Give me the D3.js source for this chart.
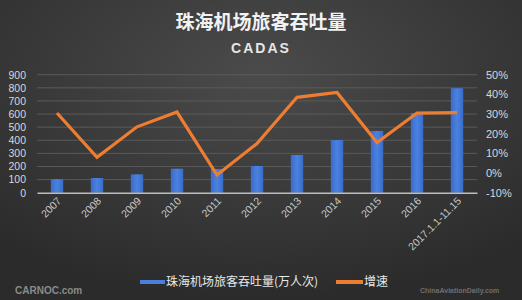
<!DOCTYPE html>
<html>
<head>
<meta charset="utf-8">
<script src="https://cdn.jsdelivr.net/npm/d3@7"></script>
<style>
  body { margin: 0; background: #333; }
  svg { display: block; }
</style>
</head>
<body>
<div id="chart"></div>
<script>
const years = ['2007', '2008', '2009', '2010', '2011', '2012', '2013', '2014', '2015', '2016', '2017.1.1-11.15'];
const passengers = [103, 112, 140, 183, 181, 204, 288, 402, 471, 608, 797];
const growth = [30.5, 8, 23.5, 31, -1, 15, 38.5, 41, 15.5, 30.5, 30.7];
const left_ticks = [0, 100, 200, 300, 400, 500, 600, 700, 800, 900];
const right_ticks = [-10, 0, 10, 20, 30, 40, 50];

const chart_width = 522;
const chart_height = 300;
const font = "'Noto Sans CJK SC', 'Liberation Sans', sans-serif";
const num_font = "'Liberation Sans', Arial, sans-serif";

const svg = d3.select('#chart')
    .append('svg')
    .attr('width', chart_width)
    .attr('height', chart_height);

// Background
const defs = svg.append('defs');
const bg = defs.append('radialGradient')
    .attr('id', 'bg')
    .attr('cx', '50%').attr('cy', '25%').attr('r', '75%');
bg.append('stop').attr('offset', '0%').attr('stop-color', '#4b4b4b');
bg.append('stop').attr('offset', '100%').attr('stop-color', '#2b2b2b');

const bar_grad = defs.append('linearGradient')
    .attr('id', 'bar')
    .attr('x1', 0).attr('x2', 1).attr('y1', 0).attr('y2', 0);
bar_grad.append('stop').attr('offset', '0%').attr('stop-color', '#3a6bc9');
bar_grad.append('stop').attr('offset', '50%').attr('stop-color', '#4a82e0');
bar_grad.append('stop').attr('offset', '100%').attr('stop-color', '#3a6bc9');

svg.append('rect')
    .attr('width', chart_width)
    .attr('height', chart_height)
    .attr('fill', 'url(#bg)');

// Scales
const x_scale = d3.scaleBand()
    .domain(years)
    .range([37, 477])
    .paddingInner(0.69)
    .paddingOuter(0.345);

const y_left = d3.scaleLinear()
    .domain([0, 900])
    .range([192.7, 74.7]);

const y_right = d3.scaleLinear()
    .domain([-10, 50])
    .range([192.7, 74.7]);

// Gridlines
svg.append('g')
    .selectAll('line')
    .data(left_ticks.slice(1))
    .enter()
    .append('line')
    .attr('x1', 37)
    .attr('x2', 477)
    .attr('y1', d => y_left(d))
    .attr('y2', d => y_left(d))
    .attr('stroke', '#5a5a5a')
    .attr('stroke-width', 1);

// Left axis
const y_axis_left = d3.axisLeft(y_left).tickValues(left_ticks).tickSize(0).tickPadding(0);
const gl = svg.append('g')
    .attr('transform', 'translate(26, 0)')
    .call(y_axis_left);
gl.select('.domain').remove();
gl.selectAll('text')
    .attr('fill', '#d8d8d8')
    .style('font-family', num_font)
    .style('font-size', '10.5px');

// Right axis
const y_axis_right = d3.axisRight(y_right).tickValues(right_ticks).tickSize(0).tickPadding(0)
    .tickFormat(d => d + '%');
const gr = svg.append('g')
    .attr('transform', 'translate(486, 0)')
    .call(y_axis_right);
gr.select('.domain').remove();
gr.selectAll('text')
    .attr('fill', '#d8d8d8')
    .style('font-family', num_font)
    .style('font-size', '11px');

// Bars
svg.append('g')
    .selectAll('rect')
    .data(passengers)
    .enter()
    .append('rect')
    .attr('x', (d, i) => x_scale(years[i]))
    .attr('y', d => y_left(d))
    .attr('width', x_scale.bandwidth())
    .attr('height', d => y_left(0) - y_left(d))
    .attr('fill', 'url(#bar)');

// X axis
const x_axis = d3.axisBottom(x_scale).tickSize(0).tickPadding(0);
const gx = svg.append('g')
    .attr('transform', `translate(0, ${y_left(0)})`)
    .call(x_axis);
gx.select('.domain')
    .attr('stroke', '#bdbdbd')
    .attr('stroke-width', 1.5);
gx.selectAll('text')
    .attr('fill', '#c8c8c8')
    .style('font-family', num_font)
    .style('font-size', '10.5px')
    .attr('text-anchor', 'end')
    .attr('dy', null)
    .attr('transform', 'translate(5, 9) rotate(-45)');

// Growth line
const line = d3.line()
    .x((d, i) => x_scale(years[i]) + x_scale.bandwidth() / 2)
    .y(d => y_right(d));

svg.append('path')
    .datum(growth)
    .attr('d', line)
    .attr('fill', 'none')
    .attr('stroke', '#ed7d31')
    .attr('stroke-width', 3.2)
    .attr('stroke-linejoin', 'miter');

// Title
svg.append('text')
    .attr('x', 261)
    .attr('y', 29)
    .attr('text-anchor', 'middle')
    .attr('fill', '#f2f2f2')
    .style('font-family', font)
    .style('font-size', '19px')
    .style('font-weight', 'bold')
    .text('珠海机场旅客吞吐量');

svg.append('text')
    .attr('x', 261)
    .attr('y', 53)
    .attr('text-anchor', 'middle')
    .attr('fill', '#e6e6e6')
    .style('font-family', num_font)
    .style('font-size', '14px')
    .style('font-weight', 'bold')
    .style('letter-spacing', '2px')
    .text('CADAS');

// Legend
const legend = svg.append('g').attr('transform', 'translate(0, 282)');
legend.append('line')
    .attr('x1', 140).attr('x2', 165)
    .attr('stroke', '#4a7fdc').attr('stroke-width', 4);
legend.append('text')
    .attr('x', 166).attr('y', 4)
    .attr('fill', '#e8e8e8')
    .style('font-family', font)
    .style('font-size', '12px')
    .text('珠海机场旅客吞吐量(万人次)');
legend.append('line')
    .attr('x1', 336).attr('x2', 363)
    .attr('stroke', '#ed7d31').attr('stroke-width', 4);
legend.append('text')
    .attr('x', 364).attr('y', 4)
    .attr('fill', '#e8e8e8')
    .style('font-family', font)
    .style('font-size', '12px')
    .text('增速');

// Watermarks
svg.append('text')
    .attr('x', 15).attr('y', 294)
    .attr('fill', '#8a8a8a')
    .style('font-family', num_font)
    .style('font-size', '10px')
    .style('font-weight', 'bold')
    .text('CARNOC.com');
svg.append('text')
    .attr('x', 420).attr('y', 293)
    .attr('fill', '#6e6e6e')
    .style('font-family', num_font)
    .style('font-size', '7px')
    .style('font-weight', 'bold')
    .text('ChinaAviationDaily.com');
</script>
</body>
</html>
